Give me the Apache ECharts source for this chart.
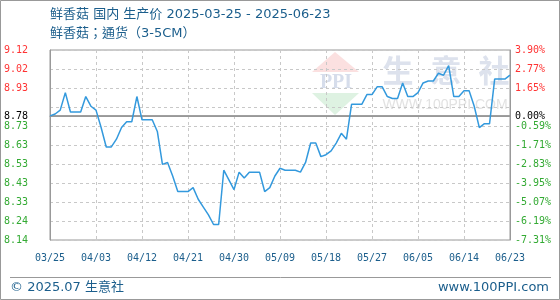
<!DOCTYPE html>
<html><head><meta charset="utf-8">
<script src="https://cdn.jsdelivr.net/npm/echarts@6/dist/echarts.min.js"></script>
<style>html,body{margin:0;padding:0;background:#fff}#c{width:560px;height:300px}</style>
</head><body><div id="c"></div>
<script>
// ---- data ----
const titleText = '鲜香菇 国内 生产价 2025-03-25 - 2025-06-23';
const subTitleText = '鲜香菇；通货（3-5CM）';
const startDate = '2025-03-25';
const endDate = '2025-06-23';
const prices = [
  8.78, 8.79, 8.81, 8.90, 8.80, 8.80, 8.80, 8.88, 8.83, 8.81,
  8.72, 8.62, 8.62, 8.66, 8.72, 8.75, 8.75, 8.88, 8.76, 8.76,
  8.76, 8.70, 8.53, 8.54, 8.47, 8.39, 8.39, 8.39, 8.41, 8.35,
  8.31, 8.27, 8.22, 8.22, 8.50, 8.45, 8.40, 8.49, 8.46, 8.49,
  8.49, 8.49, 8.39, 8.41, 8.47, 8.51, 8.50, 8.50, 8.50, 8.49,
  8.54, 8.64, 8.64, 8.57, 8.58, 8.60, 8.64, 8.69, 8.66, 8.84,
  8.84, 8.84, 8.89, 8.89, 8.93, 8.93, 8.88, 8.87, 8.87, 8.95,
  8.88, 8.88, 8.90, 8.95, 8.96, 8.96, 9.00, 8.99, 9.04, 8.88,
  8.88, 8.91, 8.91, 8.83, 8.72, 8.74, 8.74, 8.97, 8.97, 8.97,
  8.99
];
const baseValue = 8.78;
const baseLabel = '8.78';
const basePctLabel = '0.00%';
const leftMin = 8.14, leftMax = 9.12;
const rightMin = -7.31, rightMax = 3.90;
const leftTickLabels = ['8.14','8.24','8.33','8.43','8.53','8.63','8.73','','8.93','9.02','9.12'];
const rightTickLabels = ['-7.31%','-6.19%','-5.07%','-3.95%','-2.83%','-1.71%','-0.59%','','1.65%','2.77%','3.90%'];
const footerLeft = '© 2025.07 生意社';
const footerRight = 'www.100PPI.com';

// categories (one per day)
const categories = [];
(function(){
  let d = new Date(startDate + 'T00:00:00Z');
  const e = new Date(endDate + 'T00:00:00Z');
  while (d <= e) {
    const m = String(d.getUTCMonth() + 1).padStart(2, '0');
    const dd = String(d.getUTCDate()).padStart(2, '0');
    categories.push(m + '/' + dd);
    d = new Date(d.getTime() + 86400000);
  }
})();

const RED = '#ff3333', GREEN = '#33aa33', BLUE_TXT = '#1b5e8c';
const MONO = '"DejaVu Sans Mono", monospace';
const TITLE_FONT = '"DejaVu Sans", "Noto Sans CJK SC", sans-serif';
const leftInterval = (leftMax - leftMin) / 10;
const rightInterval = (rightMax - rightMin) / 10;
function idx(v, min, iv) { return Math.round((v - min) / iv); }
function colorFor(i) { return i >= 8 ? RED : GREEN; }

const chart = echarts.init(document.getElementById('c'), null, {renderer: 'canvas'});
chart.setOption({
  animation: false,
  backgroundColor: '#fff',
  title: {
    text: titleText, subtext: subTitleText,
    left: 50, top: 7, padding: 0, itemGap: 3,
    textStyle: {fontSize: 13, fontWeight: 'normal', color: BLUE_TXT, lineHeight: 16, fontFamily: TITLE_FONT},
    subtextStyle: {fontSize: 13, color: BLUE_TXT, lineHeight: 16, fontFamily: '"DejaVu Sans", "Noto Sans CJK TC", sans-serif'}
  },
  grid: {left: 50, right: 50, top: 50, bottom: 60, show: true, borderColor: '#999', borderWidth: 1, backgroundColor: 'transparent'},
  xAxis: {
    type: 'category', data: categories, boundaryGap: false,
    axisLine: {show: true, lineStyle: {color: '#999'}},
    axisTick: {show: false},
    axisLabel: {interval: 8, color: BLUE_TXT, fontSize: 10, fontFamily: MONO, margin: 13},
    splitLine: {show: true, interval: 8, lineStyle: {color: '#c8c8c8', type: [3, 3]}}
  },
  yAxis: [{
    type: 'value', min: leftMin, max: leftMax, interval: leftInterval,
    axisLine: {show: true, lineStyle: {color: '#999'}},
    axisTick: {show: false},
    axisLabel: {
      fontSize: 10, fontFamily: MONO, margin: 22,
      formatter: v => leftTickLabels[idx(v, leftMin, leftInterval)] || '',
      color: v => colorFor(idx(v, leftMin, leftInterval))
    },
    splitLine: {show: true, lineStyle: {color: '#c8c8c8', type: [3, 3]}}
  }, {
    type: 'value', min: rightMin, max: rightMax, interval: rightInterval, position: 'right',
    axisLine: {show: true, lineStyle: {color: '#999'}},
    axisTick: {show: false},
    axisLabel: {
      fontSize: 10, fontFamily: MONO, margin: 5,
      formatter: v => rightTickLabels[idx(v, rightMin, rightInterval)] || '',
      color: v => colorFor(idx(v, rightMin, rightInterval))
    },
    splitLine: {show: false}
  }],
  series: [{
    type: 'line', data: prices, yAxisIndex: 0, symbol: 'none', smooth: false,
    lineStyle: {color: '#3399dd', width: 1.5}, itemStyle: {color: '#3399dd'}, z: 5,
    markLine: {
      silent: true, symbol: 'none',
      lineStyle: {color: '#999', type: 'solid', width: 1.5},
      data: [
        {yAxis: baseValue, label: {show: true, position: 'start', distance: 22, formatter: baseLabel, color: '#000', fontSize: 10, fontFamily: MONO}},
        {yAxis: baseValue, label: {show: true, position: 'end', distance: 5, formatter: basePctLabel, color: '#000', fontSize: 10, fontFamily: MONO}}
      ]
    }
  }],
  graphic: [
    {type: 'rect', shape: {x: 0.5, y: 0.5, width: 559, height: 299}, style: {fill: 'none', stroke: '#999', lineWidth: 1}, silent: true, z: 10},
    {type: 'line', shape: {x1: 10, y1: 277.5, x2: 551, y2: 277.5}, style: {stroke: '#999', lineWidth: 1}, silent: true},
    {type: 'text', left: 10, top: 281, style: {text: footerLeft, fill: BLUE_TXT, fontSize: 13, fontFamily: TITLE_FONT}, silent: true},
    {type: 'text', right: 11, top: 281, style: {text: footerRight, fill: BLUE_TXT, fontSize: 13, fontFamily: '"DejaVu Sans", sans-serif'}, silent: true},
    // watermark
    {type: 'polygon', shape: {points: [[335,52],[312,72],[359,72]]}, style: {fill: '#fbe0e0'}, silent: true, z: -1},
    {type: 'polygon', shape: {points: [[312,93],[359,93],[335,115]]}, style: {fill: '#def2e2'}, silent: true, z: -1},
    {type: 'text', x: 336, y: 83, style: {text: 'PPI', fill: '#d6ddeb', fontSize: 20, fontWeight: 'bold', fontFamily: '"Liberation Serif", serif', align: 'center', verticalAlign: 'middle'}, silent: true, z: -1},
    {type: 'text', x: 398, y: 70, style: {text: '生', fill: '#dde2ed', fontSize: 31, fontWeight: 'bold', fontFamily: '"Noto Sans CJK SC", sans-serif', align: 'center', verticalAlign: 'middle'}, silent: true, z: -1},
    {type: 'text', x: 446, y: 70, style: {text: '意', fill: '#dde2ed', fontSize: 31, fontWeight: 'bold', fontFamily: '"Noto Sans CJK SC", sans-serif', align: 'center', verticalAlign: 'middle'}, silent: true, z: -1},
    {type: 'text', x: 494, y: 70, style: {text: '社', fill: '#dde2ed', fontSize: 31, fontWeight: 'bold', fontFamily: '"Noto Sans CJK SC", sans-serif', align: 'center', verticalAlign: 'middle'}, silent: true, z: -1},
    {type: 'text', x: 445, y: 105, style: {text: 'WWW.100PPI.COM', fill: '#e2e2e2', fontSize: 14, fontFamily: '"Liberation Sans", sans-serif', align: 'center', verticalAlign: 'middle'}, silent: true, z: -1}
  ]
});
</script></body></html>
